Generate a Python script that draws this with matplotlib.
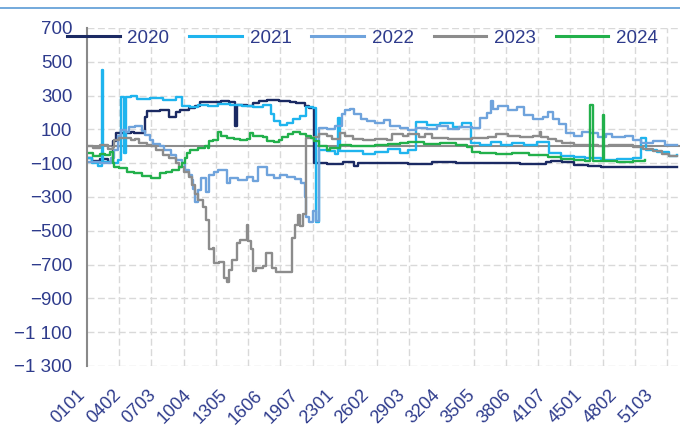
import matplotlib
matplotlib.use('Agg')
import matplotlib.pyplot as plt
from matplotlib.lines import Line2D
from matplotlib.transforms import ScaledTranslation

plt.rcParams['font.family'] = ['Liberation Sans', 'DejaVu Sans']

# data (x = day of year, step series)
years = ['2020', '2021', '2022', '2023', '2024']
colors = ['#1B2A63', '#1FB4EE', '#6FA3DC', '#8C8C8C', '#22B04B']

d2020 = [1, 4, 9, 14, 17, 19, 28, 30, 37, 38, 46, 52, 56, 59, 64, 68, 71, 80, 84, 89,
         93, 94, 100, 104, 108, 113, 120, 127, 131, 136, 139, 142, 150, 160, 167, 169,
         185, 200, 215, 230, 250, 270, 286, 289, 296, 303, 312, 320, 335, 345, 360, 367]
v2020 = [-70, -85, -75, -90, 30, 80, 85, 80, 175, 210, 215, 175, 200, 215, 225, 240, 265, 260, 270, 260,
         120, 245, 240, 255, 270, 275, 270, 265, 255, 240, 225, -100, -105, -95, -115, -100,
         -100, -105, -95, -100, -100, -105, -95, -85, -95, -110, -115, -120, -125, -120, -125, -120]

d2021 = [1, 4, 8, 10, 11, 17, 20, 22, 24, 25, 28, 32, 40, 48, 56, 60, 65, 70, 76, 82,
         90, 97, 104, 110, 115, 117, 121, 125, 129, 133, 137, 141, 143, 145, 150, 155, 157, 158,
         165, 172, 180, 188, 195, 200, 205, 212, 220, 228, 234, 239, 245, 252, 258, 265,
         272, 280, 288, 295, 303, 310, 320, 330, 340, 345, 348, 355, 362, 367]
v2021 = [-70, -100, -115, 450, -90, -100, -80, 290, -40, 290, 295, 280, 285, 275, 290, 240, 230, 245, 240, 250,
         245, 240, 230, 245, 190, 150, 125, 140, 160, 180, 230, 225, -450, -20, -30, -45, 170, -25,
         -30, -45, -35, -15, -40, -20, 145, 125, 140, 115, 135, 20, 5, 25, 10, 20,
         5, 25, -40, -55, -65, -70, -80, -75, -70, 50, -20, -35, -55, -50]

d2022 = [1, 9, 16, 18, 20, 22, 25, 27, 31, 35, 37, 40, 42, 46, 49, 53, 56, 60, 62, 64,
         66, 67, 68, 70, 72, 75, 77, 80, 82, 88, 90, 95, 100, 104, 107, 113, 117, 121, 125, 130,
         134, 136, 137, 139, 141, 143, 145, 150, 155, 159, 161, 164, 167, 171, 175, 180, 185, 189,
         195, 200, 205, 212, 218, 225, 232, 240, 245, 249, 252, 253, 256, 262, 268, 272, 278, 284,
         287, 290, 294, 298, 303, 308, 313, 318, 323, 327, 335, 340, 345, 352, 360, 367]
v2022 = [-90, -100, -70, -20, 60, 95, 85, 115, 120, 90, 65, 40, 15, 0, -20, -50, -80, -100, -140, -170,
         -200, -250, -330, -260, -190, -270, -170, -150, -140, -220, -190, -200, -180, -205, -120, -170, -190, -170, -180, -195,
         -215, -300, -420, -450, -380, -440, 110, 100, 120, 190, 215, 220, 190, 160, 150, 135, 155, 120,
         110, 95, 110, 100, 120, 105, 115, 110, 170, 195, 270, 220, 240, 215, 230, 185, 160, 175,
         200, 160, 130, 80, 60, 85, 80, 55, 75, 55, 60, 40, 20, 30, 10, 5]

d2023 = [1, 5, 9, 14, 17, 18, 21, 28, 31, 33, 38, 41, 44, 48, 52, 56, 58, 61, 64, 66,
         68, 70, 73, 75, 77, 79, 80, 83, 86, 88, 89, 91, 94, 96, 100, 101, 103, 104, 106, 110,
         112, 116, 118, 125, 128, 130, 132, 133, 135, 137, 142, 145, 150, 153, 158, 161, 166, 172,
         180, 187, 190, 197, 200, 207, 211, 215, 225, 240, 250, 255, 262, 270, 278, 282, 283, 287,
         292, 296, 303, 313, 318, 325, 333, 340, 346, 352, 358, 362, 367]
v2023 = [0, -10, 10, -15, -5, 40, 50, 40, 45, 20, 5, 0, -20, -50, -70, -100, -120, -150, -180, -230,
         -280, -320, -360, -435, -610, -600, -690, -685, -780, -800, -730, -670, -575, -555, -465, -560, -610, -735, -720, -710,
         -630, -720, -745, -745, -540, -465, -405, -470, -400, 50, 55, 75, 60, 45, 80, 60, 45, 40,
         45, 35, 70, 60, 75, 55, 75, 50, 45, 50, 55, 70, 60, 55, 60, 85, 55, 45,
         30, 20, 10, 10, 0, 5, 5, -5, -15, -30, -45, -55, -60]

d2024 = [1, 5, 9, 12, 15, 17, 18, 21, 26, 30, 35, 41, 46, 50, 54, 58, 60, 62, 63, 65,
         70, 74, 76, 77, 79, 82, 84, 88, 92, 96, 100, 102, 104, 110, 113, 117, 120, 122, 126, 129,
         133, 137, 140, 142, 145, 150, 152, 158, 165, 172, 180, 188, 195, 200, 210, 220, 230, 237,
         240, 245, 255, 265, 275, 282, 287, 295, 303, 310, 313, 315, 321, 322, 330, 340, 347]
v2024 = [-40, -55, -45, -50, -35, -100, -120, -130, -150, -160, -175, -185, -160, -150, -140, -120, -100, -70, -40, -20,
         -10, 0, -10, 30, 35, 85, 60, 50, 45, 40, 45, 80, 60, 55, 30, 25, 35, 55, 70, 85,
         75, 60, 50, 30, 0, -20, -10, 5, 0, 0, 5, 15, 20, 25, 15, 20, 5, -5,
         -35, -40, -45, -40, -50, -50, -65, -75, -80, -85, 245, -85, 185, -85, -90, -85, -80]

series = [(d2020, v2020), (d2021, v2021), (d2022, v2022), (d2023, v2023), (d2024, v2024)]

x_labels = ['0101', '0402', '0703', '1004', '1305', '1606', '1907', '2301', '2602',
            '2903', '3204', '3505', '3806', '4107', '4501', '4802', '5103']
x_label_days = [(int(s[:2]) - 1) * 7 + int(s[2:]) for s in x_labels]
x_grid_days = list(range(1, 370, 20))
y_ticks = [700, 500, 300, 100, -100, -300, -500, -700, -900, -1100, -1300]
y_labels = ['700', '500', '300', '100', '\u2212100', '\u2212300', '\u2212500', '\u2212700',
            '\u2212900', '\u22121 100', '\u22121 300']

txt = '#2E3B8C'
grid_c = '#D9D9D9'

fig = plt.figure(figsize=(6.8, 4.26), dpi=100)
ax = fig.add_axes([87 / 680, 1 - 366 / 426, 1 - 87 / 680, (366 - 28) / 426])

ax.axhline(0, color='#8C8C8C', lw=1.5, zorder=1.5)
for (d, v), yr, c in zip(series, years, colors):
    ax.plot(d, v, drawstyle='steps-post', color=c, lw=1.7, label=yr, zorder=2)

ax.set_xlim(1, 369)
ax.set_ylim(-1300, 700)
ax.set_yticks(y_ticks)
ax.set_yticklabels(y_labels)
ax.set_xticks(x_label_days)
ax.set_xticklabels(x_labels, rotation=45, ha='right', va='top', rotation_mode='anchor')
ax.set_xticks(x_grid_days, minor=True)

ax.grid(which='minor', axis='x', color=grid_c, lw=1, linestyle=(0, (5, 2.5)))
ax.grid(which='major', axis='y', color=grid_c, lw=1, linestyle=(0, (5, 2.5)))
ax.grid(which='major', axis='x', visible=False)
ax.set_axisbelow(True)

ax.tick_params(which='both', length=0)
ax.tick_params(axis='y', pad=10.5, labelsize=13.5, labelcolor=txt)
ax.tick_params(axis='x', pad=15, labelsize=13, labelcolor=txt)
shift = ScaledTranslation(-10 / 100, 0, fig.dpi_scale_trans)
for lab in ax.get_xticklabels():
    lab.set_transform(lab.get_transform() + shift)

for s in ['top', 'right', 'bottom']:
    ax.spines[s].set_visible(False)
ax.spines['left'].set_color('#898989')
ax.spines['left'].set_linewidth(1.5)

leg = fig.legend(loc='center left', bbox_to_anchor=(67 / 680, 1 - 38 / 426), ncol=5,
                 frameon=False, fontsize=13.5, handlelength=2.8, handletextpad=0.42,
                 columnspacing=1.06, borderpad=0, borderaxespad=0)
for t in leg.get_texts():
    t.set_color(txt)
for h in leg.legend_handles:
    h.set_linewidth(2.2)

fig.add_artist(Line2D([0, 1], [1 - 8 / 426, 1 - 8 / 426], transform=fig.transFigure,
                      color='#5B9BD5', lw=1.2))

fig.savefig('out.png', dpi=100)
